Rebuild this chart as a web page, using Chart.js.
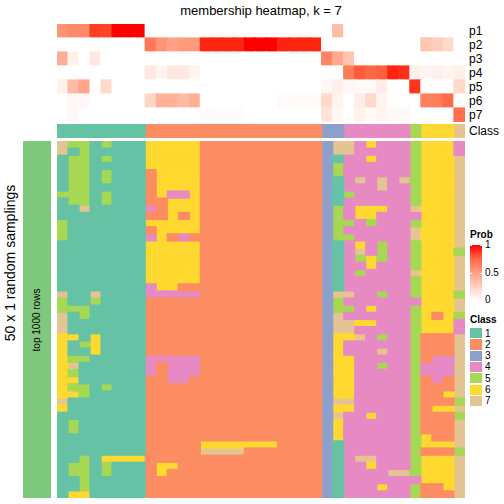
<!DOCTYPE html>
<html>
<head>
<meta charset="utf-8">
<script src="https://cdn.jsdelivr.net/npm/chart.js@4.4.1/dist/chart.umd.min.js"></script>
<style>
  body { margin: 0; background: #fff; font-family: "Liberation Sans", Arial, Helvetica, sans-serif; color: #000; }
  #wrap { position: relative; width: 504px; height: 504px; overflow: hidden; }
  .t { position: absolute; white-space: nowrap; line-height: 1; }
  canvas { position: absolute; }
</style>
</head>
<body>
<div id="wrap">
  <div class="t" style="left:0;width:522px;top:4px;text-align:center;font-size:13px;">membership heatmap, k = 7</div>

  <canvas id="prob" width="408" height="98" style="left:57px;top:24px;"></canvas>
  <canvas id="cls" width="408" height="14" style="left:57px;top:124px;"></canvas>
  <canvas id="main" width="408" height="357" style="left:57px;top:141px;"></canvas>

  <div style="position:absolute;left:23px;top:141px;width:28px;height:357px;background:#7FC97F;"></div>
  <div class="t" style="left:37px;top:320px;font-size:10px;transform:translate(-50%,-50%) rotate(-90deg);">top 1000 rows</div>
  <div class="t" style="left:10px;top:263px;font-size:14px;transform:translate(-50%,-50%) rotate(-90deg);">50 x 1 random samplings</div>

  <div id="annoLabels"></div>
  <div id="legend"></div>
</div>

<script>
// classes 1..7 (Set2 palette)
const classNames = ["1", "2", "3", "4", "5", "6", "7"];
const classColors = ["#66C2A5", "#FC8D62", "#8DA0CB", "#E78AC3", "#A6D854", "#FFD92F", "#E5C494"];

// 37 samples (columns), in plotted order
const sampleLabels = ["s1","s2","s3","s4","s5","s6","s7","s8","s9","s10","s11","s12","s13","s14","s15","s16","s17","s18","s19",
  "s20","s21","s22","s23","s24","s25","s26","s27","s28","s29","s30","s31","s32","s33","s34","s35","s36","s37"];

// consensus class of each sample
const sampleClass = [1,1,1,1,1,1,1,1, 2,2,2,2,2,2,2,2,2,2,2,2,2,2,2,2, 3,3, 4,4,4,4,4,4, 5, 6,6,6, 7];

// membership probabilities p1..p7 per sample
const p1 = [0.55,0.6,0.6,0.9,0.88,1,1,1, 0,0,0,0,0,0,0,0,0,0,0,0,0,0,0,0, 0,0.35, 0,0,0,0,0,0, 0, 0,0,0, 0];
const p2 = [0,0,0,0,0,0,0,0, 0.68,0.55,0.48,0.52,0.52,0.96,0.96,0.96,0.96,1,1,1,0.96,0.96,0.96,0.96, 0,0, 0,0,0,0,0,0, 0, 0.3,0.26,0.2, 0];
const p3 = [0.42,0.08,0,0.12,0,0,0,0, 0,0,0,0,0,0,0,0,0,0,0,0,0,0,0,0, 0.62,0.45, 0.3,0,0,0,0,0, 0, 0,0,0, 0];
const p4 = [0,0,0,0,0,0,0,0, 0.12,0.06,0.12,0.12,0.06,0,0,0,0,0,0,0,0,0,0,0, 0,0, 0.66,0.8,0.75,0.78,0.96,0.94, 0.08, 0.06,0.08,0.06, 0.08];
const p5 = [0.08,0.36,0.46,0,0.2,0,0,0, 0,0,0,0,0,0,0,0,0,0,0,0,0,0,0,0, 0.04,0.08, 0.04,0.03,0.03,0.09,0,0, 0.92, 0,0,0, 0.2];
const p6 = [0,0.04,0.04,0,0,0,0,0, 0.22,0.4,0.4,0.36,0.42,0,0,0,0,0,0,0,0.03,0.03,0.03,0.03, 0.2,0.06, 0,0.09,0.2,0.06,0,0, 0, 0.64,0.66,0.74, 0];
const p7 = [0,0.04,0,0,0,0,0,0, 0,0,0,0,0,0.02,0.02,0.02,0.02,0,0,0,0,0,0,0, 0.14,0.04, 0,0.07,0.03,0.06,0.03,0.04, 0, 0,0,0, 0.72];
const probRows = [p1, p2, p3, p4, p5, p6, p7];
const probNames = ["p1", "p2", "p3", "p4", "p5", "p6", "p7"];

// class assigned in each of the 50 random samplings (rows), one digit per sample
const samplingRows = [
  "75515111 66666 22222222222 3 7 746444 5 666 4",
  "71511111 66666 22222222222 3 7 744444 5 666 4",
  "15515111 66666 22222222222 3 1 446444 5 666 7",
  "15511111 66666 22222222222 3 5 444444 5 666 7",
  "15515111 26666 22222222222 3 5 444444 5 666 7",
  "15515111 26666 22222222222 3 1 474747 5 666 7",
  "15511111 26666 22222222222 3 1 444744 5 666 7",
  "55515111 26446 22222222222 3 1 544444 5 666 7",
  "15515111 22666 22222222222 3 1 444444 5 666 7",
  "11711111 42666 22222222222 3 5 466644 7 666 7",
  "11111111 22626 22222222222 3 5 466444 4 666 7",
  "51111111 66666 22222222222 3 5 545444 5 666 7",
  "51111111 26666 22222222222 3 5 444444 7 666 7",
  "51111111 46242 22222222222 3 5 544444 7 666 7",
  "11111111 66666 22222222222 3 1 464544 5 666 7",
  "11111111 66666 22222222222 3 1 474544 5 666 5",
  "11111111 66666 22222222222 3 1 456544 5 666 7",
  "11111111 66666 22222222222 3 1 446444 5 666 7",
  "11111111 66666 22222222222 3 1 454444 7 666 7",
  "11111111 66666 22222222222 3 1 444444 5 666 7",
  "11111111 46622 22222222222 3 1 444444 5 666 7",
  "71171111 44444 22222222222 3 7 744544 5 666 5",
  "51151111 22222 22222222222 3 5 444444 4 666 7",
  "55511111 22222 22222222222 3 5 546444 5 666 7",
  "71511111 22222 22222222222 3 7 444444 5 626 5",
  "71111111 22222 22222222222 3 7 766444 5 666 4",
  "71111111 22222 22222222222 3 7 744444 5 666 4",
  "66161111 22222 22222222222 3 6 674544 5 222 7",
  "61561111 22222 22222222222 3 6 444444 5 222 7",
  "61161111 22222 22222222222 3 6 444744 5 222 7",
  "65511111 44444 22222222222 3 6 644444 5 244 7",
  "67111111 42444 22222222222 3 6 644544 5 444 7",
  "65111111 42444 22222222222 3 6 644444 5 444 7",
  "66111111 22442 22222222222 3 6 644444 5 242 7",
  "65515111 22222 22222222222 3 6 644444 5 222 7",
  "66511111 22222 22222222222 3 6 644444 5 226 7",
  "71111111 22222 22222222222 3 7 744444 5 222 5",
  "61111111 22222 22222222222 3 6 644444 5 266 7",
  "11111111 22222 22222222222 3 7 446444 5 222 5",
  "15111111 22222 22222222222 3 6 444444 5 222 7",
  "15111111 22222 22222222222 3 6 444444 5 222 7",
  "11111111 22222 22222222222 3 6 444444 5 622 7",
  "11111111 22222 66666662222 3 1 444444 5 666 7",
  "11111111 22222 77772222222 3 1 444444 5 222 5",
  "11516666 22222 22222222222 3 1 477444 5 666 7",
  "15515111 26622 22222222222 3 1 446444 5 666 7",
  "15515111 26222 22222222222 3 1 444477 5 666 7",
  "11511111 22222 22222222222 3 1 444444 4 666 7",
  "11511111 22222 22222222222 3 1 444644 5 226 7",
  "16611111 22222 22222222222 3 1 444444 5 222 7"
];

// white -> red, interpolated in Lab like colorRamp2
function probColor(v){
  const L = 100 + (53.24 - 100) * v, A = 80.09 * v, B = 67.2 * v;
  let y = (L + 16) / 116, x = A / 500 + y, z = y - B / 200;
  const f = t => (t ** 3 > 0.008856 ? t ** 3 : (t - 16 / 116) / 7.787);
  x = 0.95047 * f(x); y = f(y); z = 1.08883 * f(z);
  const lin = [
    x * 3.2406 - y * 1.5372 - z * 0.4986,
    -x * 0.9689 + y * 1.8758 + z * 0.0415,
    x * 0.0557 - y * 0.2040 + z * 1.0570
  ];
  const rgb = lin.map(c => {
    const g = c > 0.0031308 ? 1.055 * Math.pow(c, 1 / 2.4) - 0.055 : 12.92 * c;
    return Math.round(Math.max(0, Math.min(1, g)) * 255);
  });
  return `rgb(${rgb[0]},${rgb[1]},${rgb[2]})`;
}

const cellOpts = { grouped: false, barPercentage: 1, categoryPercentage: 1, borderWidth: 0, inflateAmount: 0.6 };

function heatOptions(rows){
  return {
    responsive: false,
    animation: false,
    events: [],
    layout: { padding: 0 },
    plugins: { legend: { display: false }, tooltip: { enabled: false } },
    scales: {
      x: { type: "category", labels: sampleLabels, display: false, offset: true },
      y: { type: "linear", min: 0, max: rows, reverse: true, display: false }
    }
  };
}

// top annotation: membership probability rows
new Chart(document.getElementById("prob"), {
  type: "bar",
  data: {
    labels: sampleLabels,
    datasets: [{
      ...cellOpts,
      data: probRows.flatMap((vals, i) => vals.map((v, c) => ({ x: sampleLabels[c], y: [i, i + 1], v }))),
      backgroundColor: ctx => probColor(ctx.raw ? ctx.raw.v : 0)
    }]
  },
  options: heatOptions(probRows.length)
});

// class annotation row
new Chart(document.getElementById("cls"), {
  type: "bar",
  data: {
    labels: sampleLabels,
    datasets: classNames.map((name, k) => ({
      ...cellOpts,
      label: name,
      data: sampleClass.map((cl, c) => cl === k + 1 ? { x: sampleLabels[c], y: [0, 1] } : null).filter(Boolean),
      backgroundColor: classColors[k]
    }))
  },
  options: heatOptions(1)
});

// main body: one dataset per class, each cell a floating bar
const grid = samplingRows.map(r => r.replace(/ /g, "").split("").map(Number));
const mainSets = classNames.map((name, k) => ({ ...cellOpts, label: name, data: [], backgroundColor: classColors[k] }));
grid.forEach((row, r) => row.forEach((cl, c) => {
  mainSets[cl - 1].data.push({ x: sampleLabels[c], y: [r, r + 1] });
}));

new Chart(document.getElementById("main"), {
  type: "bar",
  data: { labels: sampleLabels, datasets: mainSets },
  options: heatOptions(grid.length)
});

// annotation names on the right
const annoNames = [...probNames, "Class"];
const annoBox = document.getElementById("annoLabels");
annoNames.forEach((n, i) => {
  const d = document.createElement("div");
  d.className = "t";
  const cy = i < 7 ? 24 + 14 * i + 7 : 131;
  d.style.cssText = `left:469px;top:${cy - 6}px;font-size:12px;`;
  d.textContent = n;
  annoBox.appendChild(d);
});

// legends
const lg = document.getElementById("legend");
const add = (html) => { lg.insertAdjacentHTML("beforeend", html); };
add(`<div class="t" style="left:470px;top:230px;font-size:10px;font-weight:bold;">Prob</div>`);
const stops = [1, 0.75, 0.5, 0.25, 0].map(probColor).join(",");
add(`<div style="position:absolute;left:470px;top:245px;width:12px;height:55px;background:linear-gradient(to bottom,${stops});"></div>`);
[[1, 245], [0.5, 272.5]].forEach(([v, y]) => {
  add(`<div style="position:absolute;left:470px;top:${y}px;width:2px;height:1px;background:#fff;"></div>`);
  add(`<div style="position:absolute;left:480px;top:${y}px;width:2px;height:1px;background:#fff;"></div>`);
});
[["1", 245], ["0.5", 272.5], ["0", 300]].forEach(([t, y]) => {
  add(`<div class="t" style="left:485px;top:${y - 5}px;font-size:10px;">${t}</div>`);
});
add(`<div class="t" style="left:470px;top:315px;font-size:10px;font-weight:bold;">Class</div>`);
classNames.forEach((n, k) => {
  const y = 328 + k * 11.3;
  add(`<div style="position:absolute;left:470px;top:${y}px;width:12px;height:10.3px;background:${classColors[k]};"></div>`);
  add(`<div class="t" style="left:485px;top:${y + 0.5}px;font-size:10px;">${n}</div>`);
});
</script>
</body>
</html>
